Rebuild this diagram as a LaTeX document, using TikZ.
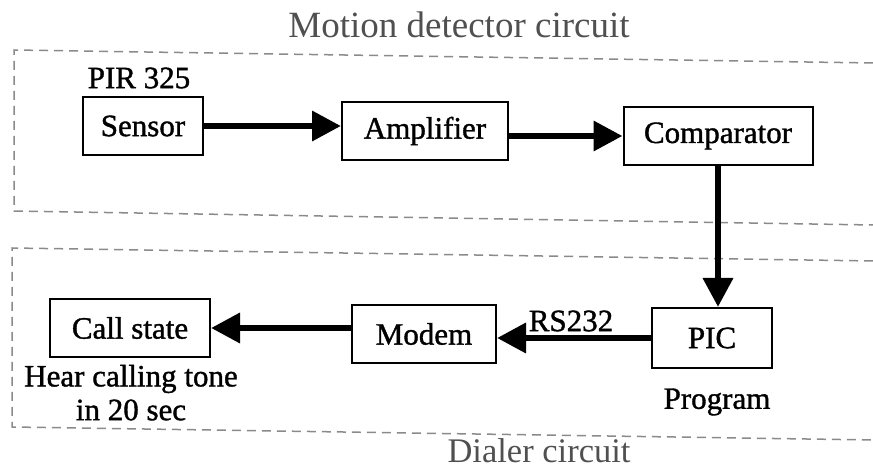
\documentclass[tikz,border=0pt]{standalone}
\usepackage{fontspec}
\setmainfont{Liberation Serif}
\newfontfamily\boldishfont[FakeBold=1.2]{Liberation Serif}
\usetikzlibrary{arrows.meta}
\definecolor{titlegray}{HTML}{505050}
\definecolor{dashgray}{HTML}{8A8A8A}
\begin{document}
\begin{tikzpicture}[x=1pt,y=-1pt,
  blk/.style={draw=black,line width=2pt,minimum height=58pt,inner sep=0pt,font=\boldishfont\fontsize{31}{35}\selectfont},
  lbl/.style={font=\boldishfont\fontsize{31}{35}\selectfont,inner sep=0pt,align=center},
  ttl/.style={text=titlegray,inner sep=0pt,anchor=base},
  frame/.style={draw=dashgray,line width=1.5pt,dash pattern=on 9pt off 6pt},
  flow/.style={line width=6.5pt,-{Triangle[length=29pt,width=29pt]}}]
\useasboundingbox (0,0) rectangle (873,470);
% frames
\draw[frame] (873,63) -- (14,50) -- (14,211) -- (873,225);
\draw[frame] (873,261) -- (12,248) -- (12,427) -- (873,440);
% titles
\node[ttl,font=\fontsize{37}{41}\selectfont] (t1) at (459,38) {Motion detector circuit};
\node[ttl,font=\fontsize{34.5}{38}\selectfont] (t2) at (539,462) {Dialer circuit};
% blocks
\node[blk,minimum width=120pt] (sensor) at (143,126) {Sensor};
\node[blk,minimum width=166pt] (amp) at (425,131) {Amplifier};
\node[blk,minimum width=189pt] (comp) at (718,136) {Comparator};
\node[blk,minimum width=120pt,minimum height=60pt] (pic) at (712,338) {PIC};
\node[blk,minimum width=144pt] (modem) at (424,334) {Modem};
\node[blk,minimum width=160pt] (call) at (130,328) {Call state};
% labels
\node[lbl] (pir) at (139,78) {PIR 325};
\node[lbl] (rs) at (571,321) {RS232};
\node[lbl] (prog) at (717,402) {Program};
\node[lbl] (hear) at (131,379) {Hear calling tone};
\node[lbl] (sec) at (131,410) {in 20 sec};
% connectors
\draw[flow] (sensor.east) -- (sensor.east -| amp.west);
\draw[flow] (amp.east |- comp.west) -- (comp.west);
\draw[flow] (comp.south) -- (comp.south |- pic.north);
\draw[flow] (pic.west) -- (pic.west -| modem.east);
\draw[flow] (modem.west |- call.east) -- (call.east);
\end{tikzpicture}
\end{document}
